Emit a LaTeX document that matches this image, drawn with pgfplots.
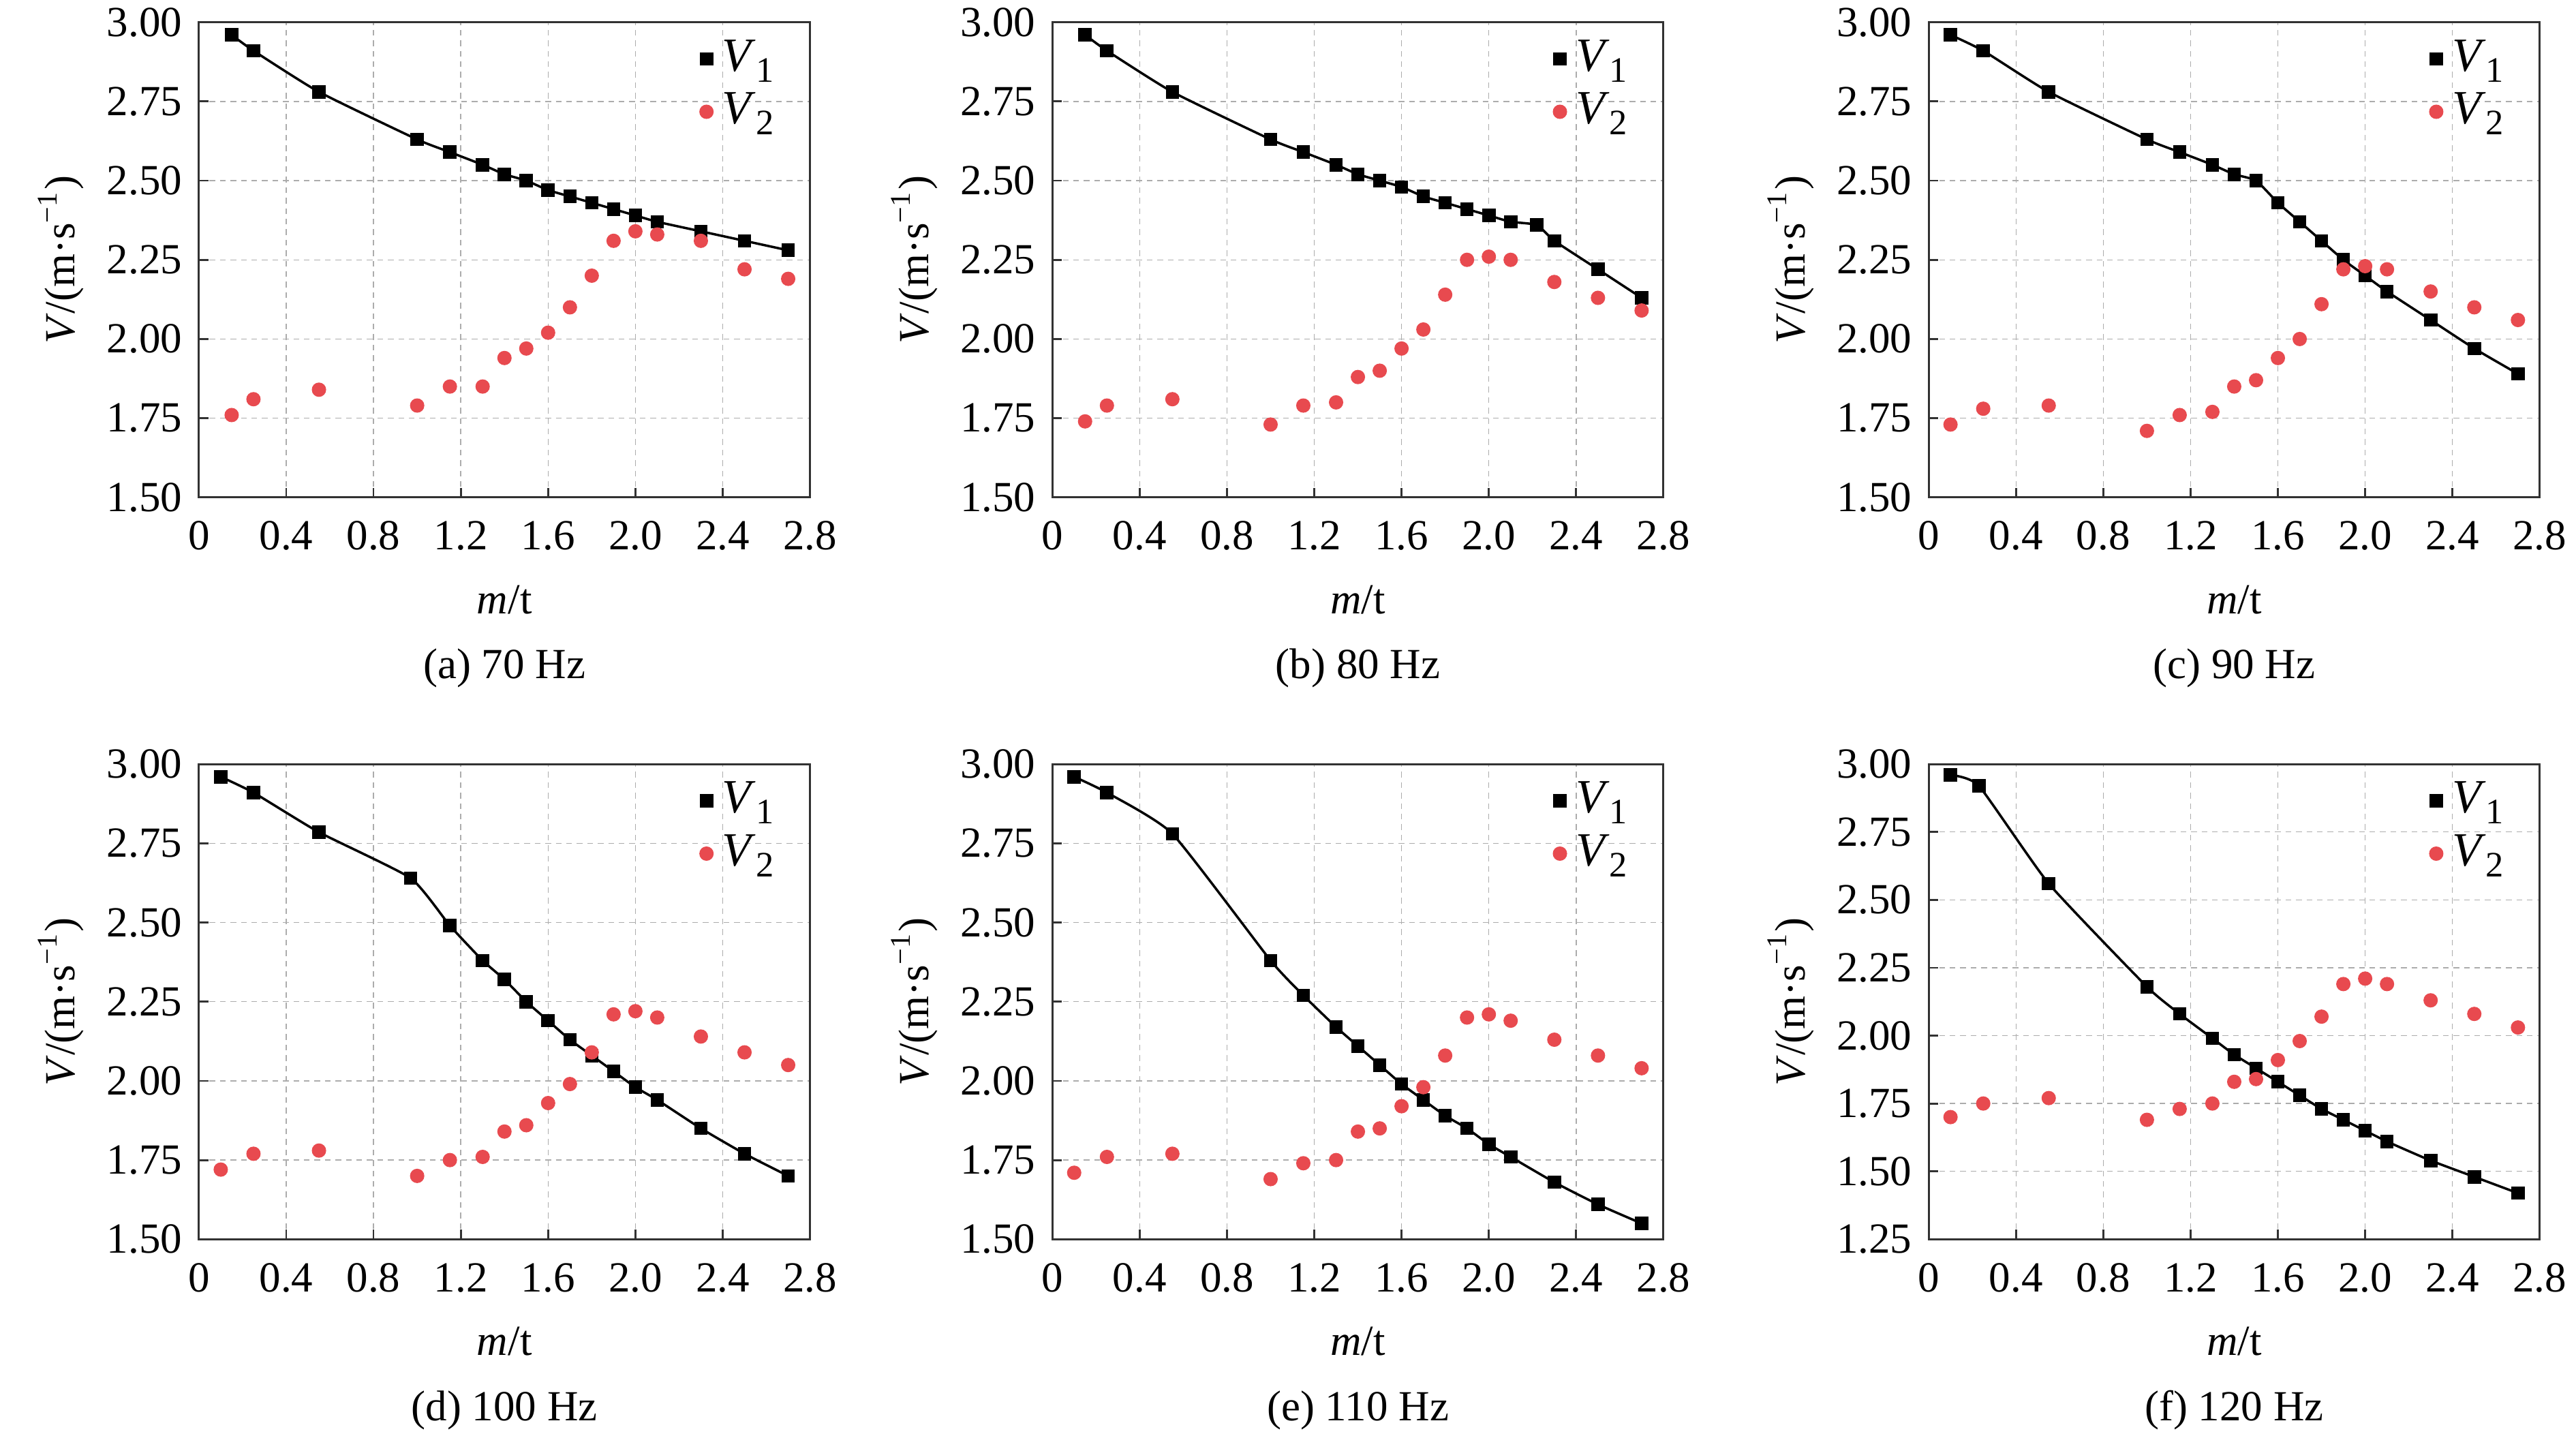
\documentclass[border=0pt]{standalone}
\usepackage{fontspec}
\setmainfont{Liberation Serif}
\usepackage{pgfplots}
\pgfplotsset{compat=1.18}
\definecolor{vred}{RGB}{232,74,79}
\definecolor{frame}{RGB}{50,50,50}
\pgfplotsset{
  myax/.style={
    scale only axis, width=128.1pt, height=99.6pt, anchor=south west,
    xmin=0, xmax=2.8, ymin=1.5, ymax=3.0,
    xtick={0,0.4,0.8,1.2,1.6,2.0,2.4,2.8},
    xticklabels={0,0.4,0.8,1.2,1.6,2.0,2.4,2.8},
    ytick={1.5,1.75,2.0,2.25,2.5,2.75,3.0},
    yticklabel style={/pgf/number format/.cd,fixed,fixed zerofill,precision=2},
    xticklabel style={yshift=-1.5pt},
    /pgf/number format/assume math mode=true,
    tick label style={font=\fontsize{9}{9}\selectfont},
    label style={font=\fontsize{9}{9}\selectfont},
    tick align=inside, xtick pos=bottom, ytick pos=left,
    major tick length=2pt, tick style={frame, line width=0.4pt},
    axis line style={frame, line width=0.45pt},
    grid=major,
    major grid style={gray!65, line width=0.2pt, dash pattern=on 1.2pt off 1pt},
    xlabel={\textit{m}/t},
    xlabel style={at={(rel axis cs:0.5,-0.215)}, anchor=center},
    ylabel={\textit{V}/(m·s\textsuperscript{−1})},
    ylabel style={at={(rel axis cs:-0.226,0.5)}, anchor=center, rotate=0},
    clip=false,
    legend style={draw=none, fill=none, at={(rel axis cs:0.815,0.99)}, anchor=north west,
      font=\fontsize{10}{10}\selectfont, row sep=-1pt, inner sep=0.5pt},
    legend cell align=left,
    v1line/.style={black, line width=0.5pt, smooth, tension=0.3, no marks, forget plot},
    v1mark/.style={only marks, mark=square*, mark size=1.2pt, black},
    v2mark/.style={only marks, mark=*, mark size=1.3pt, vred, mark options={draw=vred, fill=vred}},
  }
}
\newcommand{\leg}{\legend{\textit{V}\raisebox{-0.5ex}{\fontsize{7.5}{7}\selectfont 1},\textit{V}\raisebox{-0.5ex}{\fontsize{7.5}{7}\selectfont 2}}}
\newcommand{\subcap}[1]{\node[font=\fontsize{9}{9}\selectfont, anchor=center] at (rel axis cs:0.5,-0.36) {#1};}
\begin{document}
\begin{tikzpicture}
\useasboundingbox (0,0) rectangle (540pt,300.86pt);
% (a)
\begin{axis}[myax, at={(41.7pt,196.6pt)}]
\addplot[v1line] coordinates {(0.15,2.96)(0.25,2.91)(0.55,2.78)(1.0,2.63)(1.15,2.59)(1.3,2.55)(1.4,2.52)(1.5,2.50)(1.6,2.47)(1.7,2.45)(1.8,2.43)(1.9,2.41)(2.0,2.39)(2.1,2.37)(2.3,2.34)(2.5,2.31)(2.7,2.28)};
\addplot[v1mark] coordinates {(0.15,2.96)(0.25,2.91)(0.55,2.78)(1.0,2.63)(1.15,2.59)(1.3,2.55)(1.4,2.52)(1.5,2.50)(1.6,2.47)(1.7,2.45)(1.8,2.43)(1.9,2.41)(2.0,2.39)(2.1,2.37)(2.3,2.34)(2.5,2.31)(2.7,2.28)};
\addplot[v2mark] coordinates {(0.15,1.76)(0.25,1.81)(0.55,1.84)(1.0,1.79)(1.15,1.85)(1.3,1.85)(1.4,1.94)(1.5,1.97)(1.6,2.02)(1.7,2.10)(1.8,2.20)(1.9,2.31)(2.0,2.34)(2.1,2.33)(2.3,2.31)(2.5,2.22)(2.7,2.19)};
\leg
\subcap{(a) 70 Hz}
\end{axis}
% (b)
\begin{axis}[myax, at={(220.6pt,196.6pt)}]
\addplot[v1line] coordinates {(0.15,2.96)(0.25,2.91)(0.55,2.78)(1.0,2.63)(1.15,2.59)(1.3,2.55)(1.4,2.52)(1.5,2.50)(1.6,2.48)(1.7,2.45)(1.8,2.43)(1.9,2.41)(2.0,2.39)(2.1,2.37)(2.22,2.36)(2.3,2.31)(2.5,2.22)(2.7,2.13)};
\addplot[v1mark] coordinates {(0.15,2.96)(0.25,2.91)(0.55,2.78)(1.0,2.63)(1.15,2.59)(1.3,2.55)(1.4,2.52)(1.5,2.50)(1.6,2.48)(1.7,2.45)(1.8,2.43)(1.9,2.41)(2.0,2.39)(2.1,2.37)(2.22,2.36)(2.3,2.31)(2.5,2.22)(2.7,2.13)};
\addplot[v2mark] coordinates {(0.15,1.74)(0.25,1.79)(0.55,1.81)(1.0,1.73)(1.15,1.79)(1.3,1.80)(1.4,1.88)(1.5,1.90)(1.6,1.97)(1.7,2.03)(1.8,2.14)(1.9,2.25)(2.0,2.26)(2.1,2.25)(2.3,2.18)(2.5,2.13)(2.7,2.09)};
\leg
\subcap{(b) 80 Hz}
\end{axis}
% (c)
\begin{axis}[myax, at={(404.3pt,196.6pt)}]
\addplot[v1line] coordinates {(0.1,2.96)(0.25,2.91)(0.55,2.78)(1.0,2.63)(1.15,2.59)(1.3,2.55)(1.4,2.52)(1.5,2.50)(1.6,2.43)(1.7,2.37)(1.8,2.31)(1.9,2.25)(2.0,2.20)(2.1,2.15)(2.3,2.06)(2.5,1.97)(2.7,1.89)};
\addplot[v1mark] coordinates {(0.1,2.96)(0.25,2.91)(0.55,2.78)(1.0,2.63)(1.15,2.59)(1.3,2.55)(1.4,2.52)(1.5,2.50)(1.6,2.43)(1.7,2.37)(1.8,2.31)(1.9,2.25)(2.0,2.20)(2.1,2.15)(2.3,2.06)(2.5,1.97)(2.7,1.89)};
\addplot[v2mark] coordinates {(0.1,1.73)(0.25,1.78)(0.55,1.79)(1.0,1.71)(1.15,1.76)(1.3,1.77)(1.4,1.85)(1.5,1.87)(1.6,1.94)(1.7,2.00)(1.8,2.11)(1.9,2.22)(2.0,2.23)(2.1,2.22)(2.3,2.15)(2.5,2.10)(2.7,2.06)};
\leg
\subcap{(c) 90 Hz}
\end{axis}
% (d)
\begin{axis}[myax, at={(41.7pt,41.1pt)}]
\addplot[v1line] coordinates {(0.1,2.96)(0.25,2.91)(0.55,2.785)(0.97,2.64)(1.15,2.49)(1.3,2.38)(1.4,2.32)(1.5,2.25)(1.6,2.19)(1.7,2.13)(1.8,2.08)(1.9,2.03)(2.0,1.98)(2.1,1.94)(2.3,1.85)(2.5,1.77)(2.7,1.70)};
\addplot[v1mark] coordinates {(0.1,2.96)(0.25,2.91)(0.55,2.785)(0.97,2.64)(1.15,2.49)(1.3,2.38)(1.4,2.32)(1.5,2.25)(1.6,2.19)(1.7,2.13)(1.8,2.08)(1.9,2.03)(2.0,1.98)(2.1,1.94)(2.3,1.85)(2.5,1.77)(2.7,1.70)};
\addplot[v2mark] coordinates {(0.1,1.72)(0.25,1.77)(0.55,1.78)(1.0,1.70)(1.15,1.75)(1.3,1.76)(1.4,1.84)(1.5,1.86)(1.6,1.93)(1.7,1.99)(1.8,2.09)(1.9,2.21)(2.0,2.22)(2.1,2.20)(2.3,2.14)(2.5,2.09)(2.7,2.05)};
\leg
\subcap{(d) 100 Hz}
\end{axis}
% (e)
\begin{axis}[myax, at={(220.6pt,41.1pt)}]
\addplot[v1line] coordinates {(0.1,2.96)(0.25,2.91)(0.55,2.78)(1.0,2.38)(1.15,2.27)(1.3,2.17)(1.4,2.11)(1.5,2.05)(1.6,1.99)(1.7,1.94)(1.8,1.89)(1.9,1.85)(2.0,1.80)(2.1,1.76)(2.3,1.68)(2.5,1.61)(2.7,1.55)};
\addplot[v1mark] coordinates {(0.1,2.96)(0.25,2.91)(0.55,2.78)(1.0,2.38)(1.15,2.27)(1.3,2.17)(1.4,2.11)(1.5,2.05)(1.6,1.99)(1.7,1.94)(1.8,1.89)(1.9,1.85)(2.0,1.80)(2.1,1.76)(2.3,1.68)(2.5,1.61)(2.7,1.55)};
\addplot[v2mark] coordinates {(0.1,1.71)(0.25,1.76)(0.55,1.77)(1.0,1.69)(1.15,1.74)(1.3,1.75)(1.4,1.84)(1.5,1.85)(1.6,1.92)(1.7,1.98)(1.8,2.08)(1.9,2.20)(2.0,2.21)(2.1,2.19)(2.3,2.13)(2.5,2.08)(2.7,2.04)};
\leg
\subcap{(e) 110 Hz}
\end{axis}
% (f)
\begin{axis}[myax, at={(404.3pt,41.1pt)}, ymin=1.25, ytick={1.25,1.5,1.75,2.0,2.25,2.5,2.75,3.0}]
\addplot[v1line] coordinates {(0.1,2.96)(0.23,2.92)(0.55,2.56)(1.0,2.18)(1.15,2.08)(1.3,1.99)(1.4,1.93)(1.5,1.88)(1.6,1.83)(1.7,1.78)(1.8,1.73)(1.9,1.69)(2.0,1.65)(2.1,1.61)(2.3,1.54)(2.5,1.48)(2.7,1.42)};
\addplot[v1mark] coordinates {(0.1,2.96)(0.23,2.92)(0.55,2.56)(1.0,2.18)(1.15,2.08)(1.3,1.99)(1.4,1.93)(1.5,1.88)(1.6,1.83)(1.7,1.78)(1.8,1.73)(1.9,1.69)(2.0,1.65)(2.1,1.61)(2.3,1.54)(2.5,1.48)(2.7,1.42)};
\addplot[v2mark] coordinates {(0.1,1.70)(0.25,1.75)(0.55,1.77)(1.0,1.69)(1.15,1.73)(1.3,1.75)(1.4,1.83)(1.5,1.84)(1.6,1.91)(1.7,1.98)(1.8,2.07)(1.9,2.19)(2.0,2.21)(2.1,2.19)(2.3,2.13)(2.5,2.08)(2.7,2.03)};
\leg
\subcap{(f) 120 Hz}
\end{axis}
\end{tikzpicture}
\end{document}
